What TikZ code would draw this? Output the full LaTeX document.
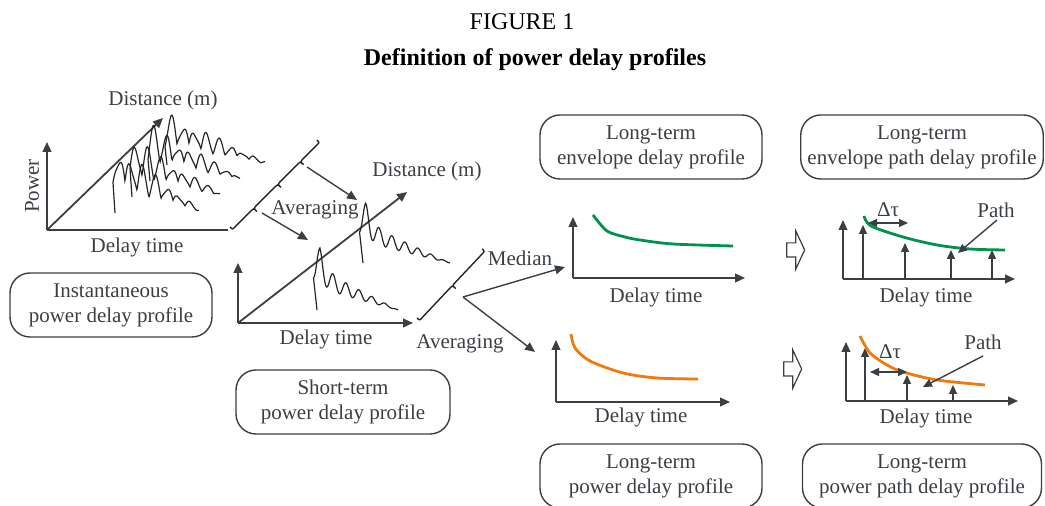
\documentclass[tikz,border=0pt]{standalone}
\usepackage{fontspec}
\setmainfont{Liberation Serif}
\usetikzlibrary{arrows.meta,shapes.arrows}

\definecolor{ink}{HTML}{3A3F44}
\definecolor{envgreen}{HTML}{00924A}
\definecolor{pwrorange}{HTML}{F07A10}

\tikzset{
  axis/.style={draw=ink, line width=0.9pt, -{Triangle[length=5pt,width=4.4pt]}},
  plainaxis/.style={draw=ink, line width=0.9pt},
  flow/.style={draw=ink, line width=0.7pt, -{Triangle[length=5pt,width=4.4pt]}},
  pathtick/.style={draw=ink, line width=0.7pt, -{Triangle[length=4.5pt,width=4pt]}},
  span/.style={draw=ink, line width=0.7pt, {Triangle[length=4.5pt,width=4pt]}-{Triangle[length=4.5pt,width=4pt]}},
  trace/.style={draw=black!85, line width=0.6pt},
  brc/.style={draw=black!85, line width=0.7pt},
  envcurve/.style={draw=envgreen, line width=1.4pt},
  pwrcurve/.style={draw=pwrorange, line width=1.4pt},
  lbl/.style={text=ink, font=\fontsize{10.5}{12}\selectfont, inner sep=1pt},
  ttl/.style={text=black, font=\fontsize{12}{14}\selectfont, inner sep=1pt},
  profbox/.style={draw=ink, line width=0.7pt, rounded corners=10pt, align=center,
    text=ink, font=\fontsize{10.5}{12.5}\selectfont, minimum height=32pt},
  hollow/.style={single arrow, draw=ink, line width=0.6pt, inner xsep=0pt, inner ysep=3.25pt,
    single arrow head extend=6pt, single arrow tip angle=130, minimum height=9pt},
}

% spiky trace: base x, base y, height, length, phase
\newcommand\insttrace[5]{%
  \draw[trace] (#1,#2) -- plot[domain=-6:#4, samples=160, variable=\t]
    ({#1+4+\t},{#2-#3*(1-0.93*max(\t,0)/#4)*(0.85+0.15*sin(23*\t+#5))*(1-0.5*(1-abs(cos(15*\t))))});}
% smoothed trace: base x, base y, height, length
\newcommand\shorttrace[4]{%
  \draw[trace] (#1,#2) -- plot[domain=-6.5:#4, samples=120, variable=\t]
    ({#1+3+\t},{#2-#3*(0.35*exp(-max(\t,0)/6)+0.65*(1-max(\t,0)/#4))*(1-0.24*(1-cos(27.6923*\t)))});}
% brace: start x, start y, angle, length, tips (tips point lower right)
\newcommand\multibrace[5]{%
  \pgfmathsetmacro\brcos{cos(#3)}\pgfmathsetmacro\brsin{sin(#3)}
  \draw[brc] (#1,#2) .. controls ({#1+3.5*\brsin},{#2+3.5*\brcos}) .. ({#1+3.5*\brcos+3.5*\brsin},{#2-3.5*\brsin+3.5*\brcos})
    \foreach \tp in {#5} { -- ({#1+(\tp-3.5)*\brcos+3.5*\brsin},{#2-(\tp-3.5)*\brsin+3.5*\brcos})
      .. controls ({#1+\tp*\brcos+3.5*\brsin},{#2-\tp*\brsin+3.5*\brcos}) .. ({#1+\tp*\brcos+8*\brsin},{#2-\tp*\brsin+8*\brcos})
      .. controls ({#1+\tp*\brcos+3.5*\brsin},{#2-\tp*\brsin+3.5*\brcos}) .. ({#1+(\tp+3.5)*\brcos+3.5*\brsin},{#2-(\tp+3.5)*\brsin+3.5*\brcos}) }
    -- ({#1+(#4-3.5)*\brcos+3.5*\brsin},{#2-(#4-3.5)*\brsin+3.5*\brcos})
    .. controls ({#1+#4*\brcos+3.5*\brsin},{#2-#4*\brsin+3.5*\brcos}) .. ({#1+#4*\brcos},{#2-#4*\brsin});}

\begin{document}
\begin{tikzpicture}[x=0.5pt,y=-0.5pt]
\useasboundingbox (0,0) rectangle (1045,506);

% title
\node[ttl] (fig) at (522,22) {FIGURE 1};
\node[ttl, font=\fontsize{12}{14}\selectfont\bfseries] (cap) at (535,60) {Definition of power delay profiles};

% instantaneous profile
\coordinate (o1) at (47,230);
\coordinate (p1) at (47,142);
\coordinate (t1) at (228,230);
\coordinate (d1) at (163,118);
\draw[axis] (o1) -- (p1);
\draw[plainaxis] (o1) -- (t1);
\draw[axis] (o1) -- (d1);
\insttrace{167}{165}{52}{94}{40}
\insttrace{150}{181}{56}{86}{110}
\insttrace{132}{197}{58}{84}{200}
\insttrace{115}{213}{68}{80}{300}
\node[lbl] (dist1) at (163,100) {Distance (m)};
\node[lbl, rotate=90] (pwr1) at (32,186) {Power};
\node[lbl] (dly1) at (137,247) {Delay time};
\node[profbox, minimum width=101pt] (inst) at (111,305) {Instantaneous\\power delay profile};

% averaging over the traces
\multibrace{230}{227}{45}{123}{30,64,96}
\coordinate (av1a) at (307,167);
\coordinate (av1b) at (357,200);
\coordinate (av2a) at (262,213);
\coordinate (av2b) at (308,240);
\draw[flow] (av1a) -- (av1b);
\draw[flow] (av2a) -- (av2b);
\node[lbl] (avg1) at (315,210) {Averaging};

% short-term profile
\coordinate (o2) at (238,323);
\coordinate (p2) at (238,263);
\coordinate (t2) at (413,323);
\coordinate (d2) at (407,192);
\draw[axis] (o2) -- (p2);
\draw[axis] (o2) -- (t2);
\draw[axis] (o2) -- (d2);
\shorttrace{363}{263}{60}{84}
\shorttrace{317}{310}{62}{78}
\node[lbl] (dist2) at (427,171) {Distance (m)};
\node[lbl] (dly2) at (326,339) {Delay time};
\node[profbox, minimum width=107pt] (short) at (343,402) {Short-term\\power delay profile};

% median / averaging over distance
\multibrace{417}{318}{46.7}{95}{48}
\coordinate (fork) at (463,297);
\coordinate (medend) at (565,267);
\coordinate (avgend) at (535,352);
\draw[flow] (fork) -- (medend);
\draw[flow] (fork) -- (avgend);
\node[lbl] (med) at (520,258) {Median};
\node[lbl] (avg2) at (460,344) {Averaging};

% long-term envelope delay profile
\coordinate (o3) at (573,278);
\coordinate (p3) at (573,217);
\coordinate (t3) at (745,278);
\draw[axis] (o3) -- (p3);
\draw[axis] (o3) -- (t3);
\draw[envcurve] plot[smooth] coordinates {(593,215) (607,231) (625,237) (640,240) (673,244) (733,246)};
\node[lbl] (dly3) at (656,297) {Delay time};
\node[profbox, minimum width=111pt] (ltenv) at (651,147) {Long-term\\envelope delay profile};

% long-term power delay profile
\coordinate (o4) at (556,402);
\coordinate (p4) at (556,340);
\coordinate (t4) at (730,402);
\draw[axis] (o4) -- (p4);
\draw[axis] (o4) -- (t4);
\draw[pwrcurve] plot[smooth] coordinates {(571,334) (575,348) (590,361) (623,373) (657,378) (698,379)};
\node[lbl] (dly4) at (641,417) {Delay time};
\node[profbox, minimum width=111pt] (ltpwr) at (651,476) {Long-term\\power delay profile};

% envelope path delay profile
\node[hollow] (step1) at (794,250) {};
\coordinate (o5) at (843,279);
\coordinate (p5) at (843,220);
\coordinate (t5) at (1015,279);
\draw[axis] (o5) -- (p5);
\draw[axis] (o5) -- (t5);
\foreach \px/\py in {863/225, 905/243, 951/250, 992/250}
  \draw[pathtick] (\px,279) -- (\px,\py);
\draw[envcurve] plot[smooth] coordinates {(864,216) (871,226) (903,237) (937,245) (970,249) (1005,250)};
\coordinate (dt5a) at (868,223);
\coordinate (dt5b) at (908,223);
\draw[span] (dt5a) -- (dt5b);
\node[lbl] (tau5) at (888,210) {Δτ};
\node[lbl] (path5) at (996,210) {Path};
\coordinate (hit5) at (958,253);
\draw[pathtick] (997,220) -- (hit5);
\node[lbl] (dly5) at (926,297) {Delay time};
\node[profbox, minimum width=119.5pt] (ltenvpath) at (922,147) {Long-term\\envelope path delay profile};

% power path delay profile
\node[hollow] (step2) at (791,369) {};
\coordinate (o6) at (846,401);
\coordinate (p6) at (846,342);
\coordinate (t6) at (1018,401);
\draw[axis] (o6) -- (p6);
\draw[axis] (o6) -- (t6);
\foreach \px/\py in {865/348, 907/375, 953/385}
  \draw[pathtick] (\px,401) -- (\px,\py);
\draw[pwrcurve] plot[smooth] coordinates {(860,336) (870,353) (887,365) (903,372) (937,380) (985,385)};
\coordinate (dt6a) at (870,372);
\coordinate (dt6b) at (907,372);
\draw[span] (dt6a) -- (dt6b);
\node[lbl] (tau6) at (890,352) {Δτ};
\node[lbl] (path6) at (983,342) {Path};
\coordinate (hit6) at (923,387);
\draw[pathtick] (983,356) -- (hit6);
\node[lbl] (dly6) at (926,418) {Delay time};
\node[profbox, minimum width=119.5pt] (ltpwrpath) at (922,476) {Long-term\\power path delay profile};
\end{tikzpicture}
\end{document}
